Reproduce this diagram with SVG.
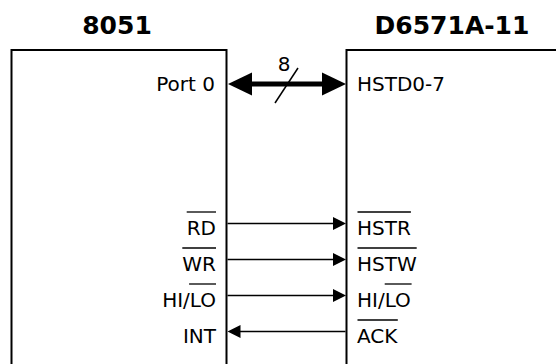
<svg xmlns="http://www.w3.org/2000/svg" width="556" height="364" viewBox="0 0 556 364">
<defs>
<style>
.box{fill:none;stroke:#000;stroke-width:2}
.title{font-family:"DejaVu Sans",sans-serif;font-weight:bold;font-size:25px;fill:#000;text-anchor:middle}
.lbl{font-family:"DejaVu Sans",sans-serif;font-size:20px;fill:#000}
.end{text-anchor:end}
.sig{stroke:#000;stroke-width:1.3;fill:none}
.bar{stroke:#000;stroke-width:1.3}
.head{fill:#000}
</style>
</defs>
<rect width="556" height="364" fill="#fff"/>
<g id="node-8051">
<path class="box" d="M11.5,366 V50 H226.5 V366"/>
<text class="title" x="117" y="33.5">8051</text>
<text class="lbl end" x="215" y="90.5">Port 0</text>
<text class="lbl end" x="216" y="234.5">RD</text>
<line class="bar" x1="186.7" y1="212" x2="216" y2="212"/>
<text class="lbl end" x="216" y="270.5">WR</text>
<line class="bar" x1="182.3" y1="248" x2="216" y2="248"/>
<text class="lbl end" x="216" y="306.5">HI/LO</text>
<line class="bar" x1="189.1" y1="284" x2="216" y2="284"/>
<text class="lbl end" x="216" y="342.5">INT</text>
</g>
<g id="node-d6571a">
<path class="box" d="M346.5,366 V50 H560"/>
<text class="title" x="452" y="33.5">D6571A-11</text>
<text class="lbl" x="357" y="90.5">HSTD0-7</text>
<text class="lbl" x="357" y="234.5">HSTR</text>
<line class="bar" x1="357.5" y1="212" x2="410.9" y2="212"/>
<text class="lbl" x="357" y="270.5">HSTW</text>
<line class="bar" x1="357.5" y1="248" x2="416.7" y2="248"/>
<text class="lbl" x="357" y="306.5">HI/LO</text>
<line class="bar" x1="384.7" y1="284" x2="411.6" y2="284"/>
<text class="lbl" x="357" y="342.5">ACK</text>
<line class="bar" x1="357.5" y1="320" x2="397.8" y2="320"/>
</g>
<g id="connectors">
<g id="bus">
<line x1="250" y1="84" x2="325" y2="84" stroke="#000" stroke-width="5"/>
<polygon class="head" points="228,84 252,72.5 252,95.5"/>
<polygon class="head" points="346,84 322,72.5 322,95.5"/>
<line x1="275" y1="103" x2="298" y2="68" stroke="#000" stroke-width="1.5"/>
<text class="lbl" x="284" y="71" text-anchor="middle">8</text>
</g>
<g id="rd">
<line class="sig" x1="227.5" y1="223.5" x2="334" y2="223.5"/>
<polygon class="head" points="346,223.5 333,217 333,230"/>
</g>
<g id="wr">
<line class="sig" x1="227.5" y1="259.5" x2="334" y2="259.5"/>
<polygon class="head" points="346,259.5 333,253 333,266"/>
</g>
<g id="hilo">
<line class="sig" x1="227.5" y1="295.5" x2="334" y2="295.5"/>
<polygon class="head" points="346,295.5 333,289 333,302"/>
</g>
<g id="int">
<line class="sig" x1="240" y1="331.5" x2="345.5" y2="331.5"/>
<polygon class="head" points="227.5,331.5 240.5,325 240.5,338"/>
</g>
</g>
</svg>
